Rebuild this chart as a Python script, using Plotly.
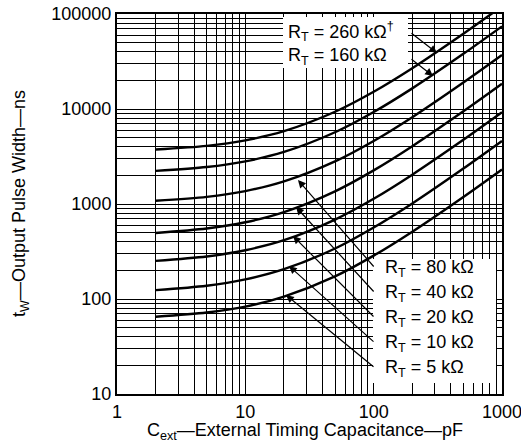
import plotly.graph_objects as go

# Data
cap_pf = [2, 5, 10, 20, 50, 100, 200, 500, 1000]
tw_5k = [65, 72, 83, 106, 173, 286, 511, 1186, 2311]
tw_10k = [124, 138, 161, 206, 340, 566, 1015, 2365, 4615]
tw_20k = [252, 280, 326, 416, 686, 1135, 2035, 4735, 9235]
tw_40k = [495, 552, 642, 822, 1360, 2260, 4060, 9460, 18460]
tw_80k = [1080, 1188, 1368, 1728, 2808, 4608, 8208, 19008, 37008]
tw_160k = [2232, 2448, 2808, 3528, 5688, 9288, 16488, 38088, 74088]
tw_260k = [3744, 4095, 4680, 5850, 9360, 15210, 26910, 62010, 120510]

series = [tw_5k, tw_10k, tw_20k, tw_40k, tw_80k, tw_160k, tw_260k]

x_tickvals = [1, 10, 100, 1000]
x_ticktext = ["1", "10", "100", "1000"]
y_tickvals = [10, 100, 1000, 10000, 100000]
y_ticktext = ["10", "100", "1000", "10000", "100000"]

minor_x = [m * 10 ** d for d in range(3) for m in range(2, 10)]
minor_y = [m * 10 ** d for d in range(1, 5) for m in range(2, 10)]

FONT = "Liberation Sans, Arial, Helvetica, sans-serif"

fig = go.Figure()
for s in series:
    fig.add_trace(go.Scatter(x=cap_pf, y=s, mode="lines",
                             line=dict(color="black", width=2.4, shape="spline", smoothing=0.8),
                             showlegend=False, hoverinfo="skip"))

# plot area in pixels: x 117..502, y 14..394
L, R, T, B = 117, 502, 14, 394
W, H = R - L, B - T


def px(xp):
    return (xp - L) / W


def py(yp):
    return (B - yp) / H


annotations = []
# white background boxes behind the labels
for (x0, x1, y0, y1) in [(283, 408, 17, 68), (373, 496, 259, 383)]:
    annotations.append(dict(xref="paper", yref="paper", x=px((x0 + x1) / 2), y=py((y0 + y1) / 2),
                            text=" ", showarrow=False, width=x1 - x0, height=y1 - y0,
                            bgcolor="white", borderpad=0, borderwidth=0,
                            xanchor="center", yanchor="middle"))

# top labels
top_labels = ["R<sub>T</sub> = 260 kΩ<sup>†</sup>", "R<sub>T</sub> = 160 kΩ"]
top_y = [31, 56]
for t, yy in zip(top_labels, top_y):
    annotations.append(dict(xref="paper", yref="paper", x=px(286), y=py(yy), text=t, showarrow=False,
                            xanchor="left", yanchor="middle", font=dict(family=FONT, size=18, color="black")))
# top arrows
for (hx, hy, tx, ty) in [(437, 53, 410, 32), (433, 76, 410, 58)]:
    annotations.append(dict(xref="paper", yref="paper", x=px(hx), y=py(hy),
                            ax=tx - hx, ay=ty - hy, text="", showarrow=True, arrowhead=2, arrowsize=1.3,
                            arrowwidth=1.2, arrowcolor="black"))

bottom_labels = ["R<sub>T</sub> = 80 kΩ", "R<sub>T</sub> = 40 kΩ", "R<sub>T</sub> = 20 kΩ",
                 "R<sub>T</sub> = 10 kΩ", "R<sub>T</sub> = 5 kΩ"]
bottom_y = [268, 293, 318, 343, 368]
heads = [(298, 180), (296, 207), (293, 236), (289, 266), (286, 295)]
for t, yy, (hx, hy) in zip(bottom_labels, bottom_y, heads):
    annotations.append(dict(xref="paper", yref="paper", x=px(383), y=py(yy), text=t, showarrow=False,
                            xanchor="left", yanchor="middle", font=dict(family=FONT, size=18, color="black")))
    annotations.append(dict(xref="paper", yref="paper", x=px(hx), y=py(hy),
                            ax=375 - hx, ay=yy - hy, text="", showarrow=True, arrowhead=2, arrowsize=1.3,
                            arrowwidth=1.2, arrowcolor="black"))

# axis titles
annotations.append(dict(xref="paper", yref="paper", x=px(305), y=py(431),
                        text="C<sub>ext</sub>—External Timing Capacitance—pF", showarrow=False,
                        xanchor="center", yanchor="middle", font=dict(family=FONT, size=18, color="black")))
annotations.append(dict(xref="paper", yref="paper", x=px(20), y=py(204),
                        text="t<sub>W</sub>—Output Pulse Width—ns", showarrow=False, textangle=-90,
                        xanchor="center", yanchor="middle", font=dict(family=FONT, size=18, color="black")))

fig.update_layout(
    width=521, height=445,
    margin=dict(l=L, r=521 - R, t=T, b=445 - B),
    paper_bgcolor="white", plot_bgcolor="white",
    annotations=annotations,
    xaxis=dict(type="log", range=[0, 3], tickvals=x_tickvals, ticktext=x_ticktext, automargin=False,
               ticklabeloverflow="allow",
               showgrid=True, gridcolor="black", gridwidth=1.4,
               minor=dict(tickmode="array", tickvals=minor_x, showgrid=True, gridcolor="black", gridwidth=1.3),
               showline=True, linecolor="black", linewidth=2, mirror=True, ticks="",
               tickfont=dict(family=FONT, size=18, color="black"), zeroline=False),
    yaxis=dict(type="log", range=[1, 5], tickvals=y_tickvals, ticktext=y_ticktext, automargin=False,
               ticklabeloverflow="allow",
               showgrid=True, gridcolor="black", gridwidth=1.4,
               minor=dict(tickmode="array", tickvals=minor_y, showgrid=True, gridcolor="black", gridwidth=1.3),
               showline=True, linecolor="black", linewidth=2, mirror=True, ticks="",
               tickfont=dict(family=FONT, size=18, color="black"), zeroline=False),
)

fig.write_html("out.html", config={"displayModeBar": False},
               post_script="document.body.style.margin='0';document.body.style.overflow='hidden';")
